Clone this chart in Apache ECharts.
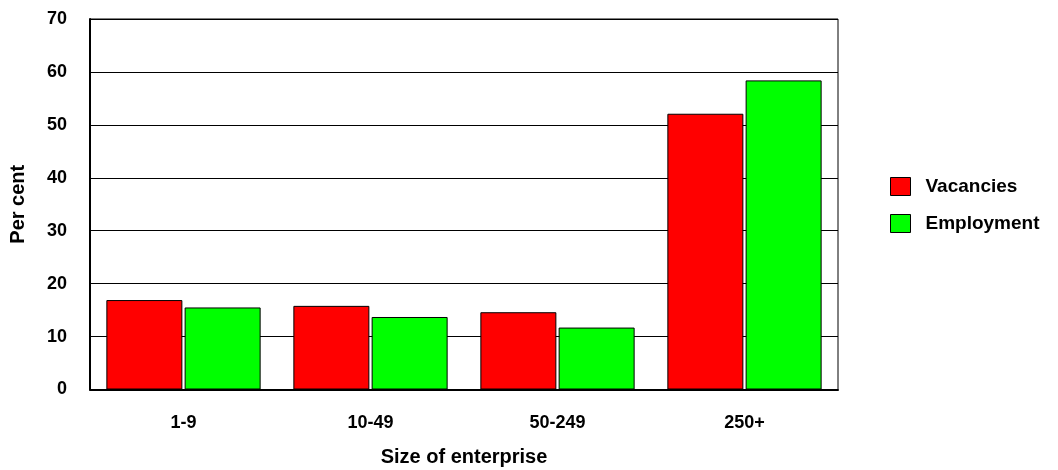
<!DOCTYPE html>
<html>
<head>
<meta charset="utf-8">
<script src="https://cdn.jsdelivr.net/npm/echarts@6/dist/echarts.min.js"></script>
<style>
  html, body { margin: 0; padding: 0; background: #fff; }
  #chart { width: 1058px; height: 470px; }
</style>
</head>
<body>
<div id="chart"></div>
<script>
// Share of vacancies and employment by enterprise size band
const categories = ['1-9', '10-49', '50-249', '250+'];
const vacancies = [16.9, 15.8, 14.6, 52.1];
const employment = [15.5, 13.7, 11.7, 58.4];
const yTicks = { min: 0, max: 70, interval: 10 };

const FONT = '"Liberation Sans", Arial, sans-serif';

const chart = echarts.init(document.getElementById('chart'));
chart.setOption({
  animation: false,
  backgroundColor: '#fff',
  textStyle: { fontFamily: FONT },
  grid: {
    left: 90, right: 220, top: 19, bottom: 80.5,
    outerBoundsMode: 'none',
    containLabel: false,
    show: true, borderColor: '#000', borderWidth: 1, backgroundColor: '#fff'
  },
  legend: {
    orient: 'vertical',
    left: 890, top: 177,
    padding: 0,
    itemWidth: 20, itemHeight: 18, itemGap: 18,
    icon: 'rect',
    itemStyle: { borderColor: '#000', borderWidth: 1 },
    textStyle: { fontFamily: FONT, fontSize: 19, fontWeight: 'bold', color: '#000', padding: [0, 0, 0, 10] },
    data: ['Vacancies', 'Employment']
  },
  xAxis: {
    type: 'category',
    data: categories,
    name: 'Size of enterprise',
    nameLocation: 'middle',
    nameGap: 58,
    nameTextStyle: { fontFamily: FONT, fontSize: 20, fontWeight: 'bold', color: '#000' },
    axisLine: { lineStyle: { color: '#000', width: 2 } },
    axisTick: { show: false },
    axisLabel: { margin: 25, fontFamily: FONT, fontSize: 18, fontWeight: 'bold', color: '#000' }
  },
  yAxis: {
    type: 'value',
    min: yTicks.min, max: yTicks.max, interval: yTicks.interval,
    name: 'Per cent',
    nameLocation: 'middle',
    nameGap: 62,
    nameTextStyle: { fontFamily: FONT, fontSize: 20, fontWeight: 'bold', color: '#000' },
    axisLine: { show: true, lineStyle: { color: '#000', width: 2 } },
    axisTick: { show: false },
    axisLabel: { margin: 23, fontFamily: FONT, fontSize: 18, fontWeight: 'bold', color: '#000' },
    splitLine: { show: true, lineStyle: { color: '#000', width: 1 } }
  },
  series: [
    {
      name: 'Vacancies', type: 'bar', data: vacancies,
      barWidth: 76, barGap: '3%',
      itemStyle: { color: '#ff0000', borderColor: '#000', borderWidth: 1 }
    },
    {
      name: 'Employment', type: 'bar', data: employment,
      barWidth: 76,
      itemStyle: { color: '#00ff00', borderColor: '#000', borderWidth: 1 }
    }
  ]
});
</script>
</body>
</html>
